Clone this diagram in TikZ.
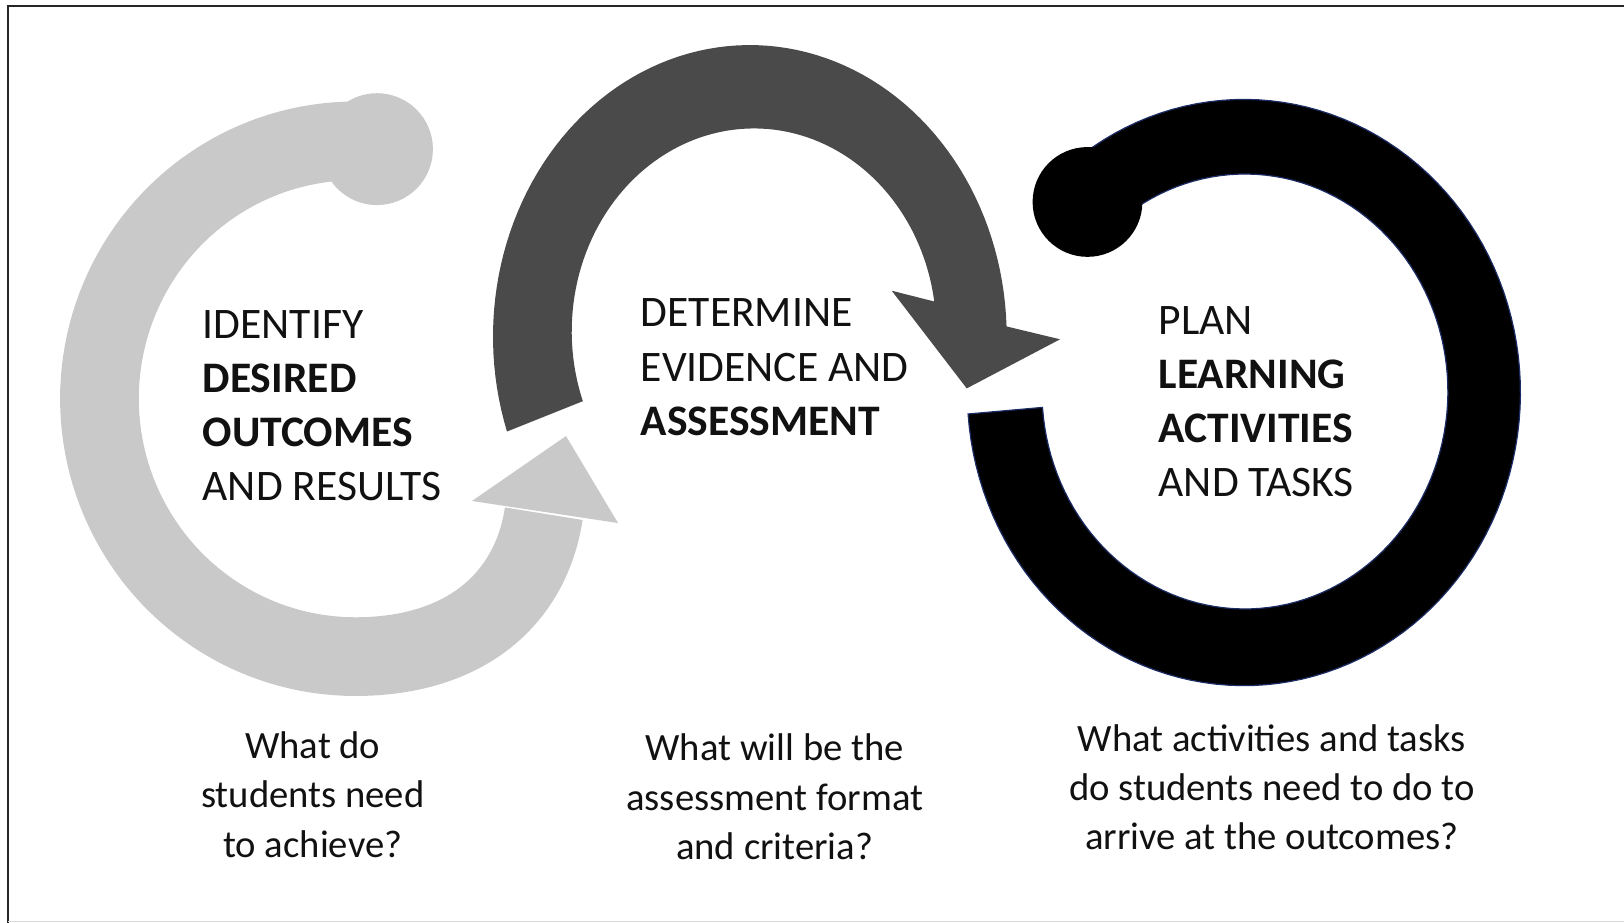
\documentclass[tikz,border=0pt]{standalone}
\usepackage{fontspec}
\setmainfont{Carlito}
\definecolor{ringgrey}{RGB}{201,201,201}
\definecolor{ringdark}{RGB}{74,74,74}
\definecolor{ringedge}{RGB}{28,44,100}
\definecolor{inktext}{RGB}{17,17,17}
\begin{document}
\begin{tikzpicture}[x=0.010357cm, y=-0.010357cm,
  steplabel/.style={anchor=north west, inner sep=0pt, align=left, text=inktext,
    font=\fontsize{12.4}{15.4}\selectfont},
  question/.style={anchor=north, inner sep=0pt, align=center, text=inktext,
    font=\fontsize{11}{14}\selectfont},
  framerule/.style={draw=black!85, line width=0.75pt},
  greyband/.style={draw=ringgrey, line width=22.4pt, line join=round},
]
\useasboundingbox (0,0) rectangle (1568,891);

% outer frame
\draw[framerule] (7.7,891) -- (7.7,5.8) -- (1568,5.8);
\draw[black!15, line width=0.4pt] (7.7,889.5) -- (1568,889.5);

% --- light grey ring: bulb at the top, arrow at the lower right
\draw[greyband] plot[domain=0:1, samples=90, variable=\s]
  ({343+247*cos(-84-186*\s)},{385+249*sin(-84-186*\s)})
  .. controls (453,634) and (513,575) .. (525,496);
\fill[ringgrey] (364,144) circle[radius=54];
\fill[ringgrey] (455.7,483.7) -- (546.5,421) -- (596.7,505) -- cycle;

% --- dark grey arc arrow over the top
\fill[ringdark]
  plot[domain=161:358, samples=90, variable=\t]
    ({724+248*cos(\t)},{325+281.5*sin(\t)})
  -- (1023.5,327.6) -- (933.4,375) -- (861,280.7) -- (902.8,291.3)
  -- plot[domain=0:1, samples=90, variable=\s]
    ({728+176*cos(351.6-191.8*\s)},{320+196*sin(351.6-191.8*\s)})
  -- cycle;

% --- black ring with a bulb at the upper left
\fill[black, draw=ringedge, line width=0.35pt]
  plot[domain=229.2:535.8, samples=120, variable=\t]
    ({1201+267*cos(\t)},{379+283*sin(\t)})
  -- plot[domain=0:1, samples=120, variable=\s]
    ({1202+196*cos(535.8-306.6*\s)},{378+210*sin(535.8-306.6*\s)})
  -- cycle;
\fill[black] (1050,195) circle[radius=53];

% --- stage titles
\node[steplabel] (identify) at (195,299)
  {IDENTIFY\\\textbf{DESIRED}\\\textbf{OUTCOMES}\\AND RESULTS};
\node[steplabel] (determine) at (618,288)
  {DETERMINE\\EVIDENCE AND\\\textbf{ASSESSMENT}};
\node[steplabel] (plan) at (1118,295)
  {PLAN\\\textbf{LEARNING}\\\textbf{ACTIVITIES}\\AND TASKS};

% --- guiding questions
\node[question] (q1) at (302,706) {What do\\students need\\to achieve?};
\node[question] (q2) at (748,708) {What will be the\\assessment format\\and criteria?};
\node[question] (q3) at (1228,699) {What activities and tasks\\do students need to do to\\arrive at the outcomes?};
\end{tikzpicture}
\end{document}
